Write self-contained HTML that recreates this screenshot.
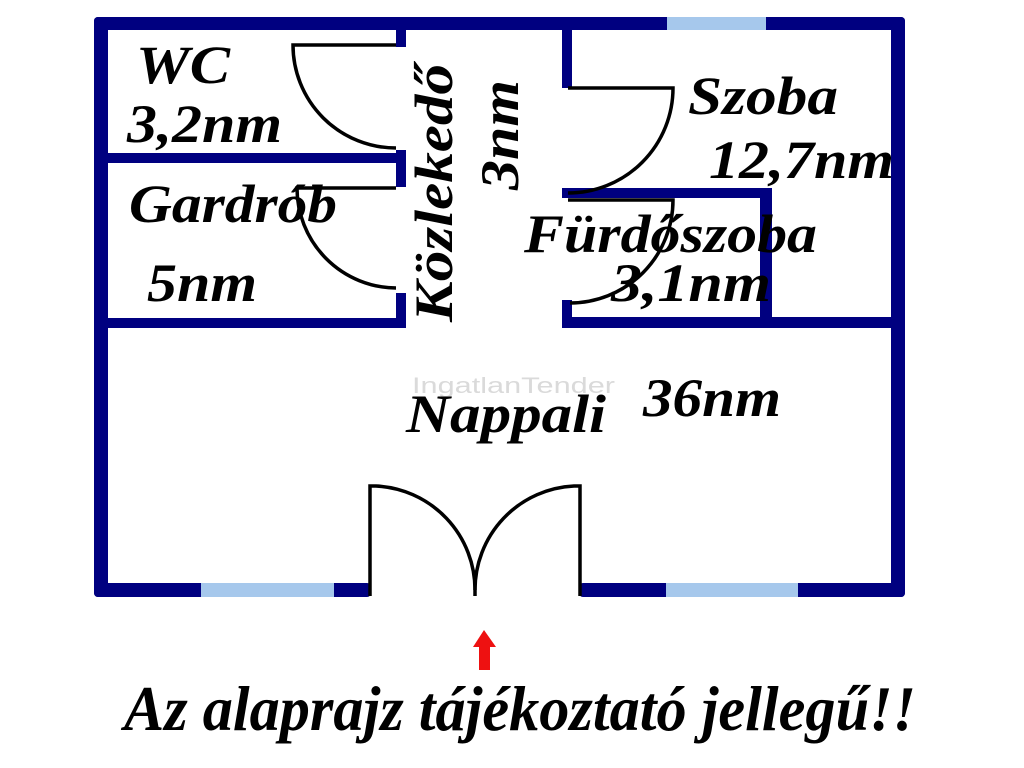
<!DOCTYPE html>
<html><head><meta charset="utf-8"><style>
html,body{margin:0;padding:0;background:#fff;width:1024px;height:768px;overflow:hidden}
svg{display:block}
text{font-family:"Liberation Serif",serif;font-weight:bold;font-style:italic;fill:#000}
text.wm{font-family:"Liberation Sans",sans-serif;font-weight:normal;font-style:normal;fill:#dadada}
</style></head><body>
<svg width="1024" height="768" viewBox="0 0 1024 768" xmlns="http://www.w3.org/2000/svg">
<rect width="1024" height="768" fill="#fff"/>
<g fill="#000080">
<rect x="94" y="17" width="811" height="13" rx="4"/>
<rect x="94" y="17" width="14" height="580" rx="4"/>
<rect x="891" y="17" width="14" height="580" rx="4"/>
<rect x="94" y="583" width="277" height="14" rx="4"/>
<rect x="579" y="583" width="326" height="14" rx="4"/>
<rect x="396" y="28" width="10" height="19"/>
<rect x="396" y="150" width="10" height="37"/>
<rect x="396" y="293" width="10" height="35"/>
<rect x="107" y="153" width="299" height="10"/>
<rect x="107" y="318" width="299" height="10"/>
<rect x="562" y="28" width="10" height="60"/>
<rect x="562" y="188" width="210" height="10"/>
<rect x="562" y="300" width="10" height="28"/>
<rect x="562" y="317" width="330" height="11"/>
<rect x="760" y="188" width="12" height="140"/>
</g>
<g fill="#a6c8ec">
<rect x="667" y="17" width="99" height="13"/>
<rect x="201" y="583" width="133" height="14"/>
<rect x="666" y="583" width="132" height="14"/>
</g>
<g fill="none" stroke="#000" stroke-width="3.5">
<path d="M396 45 H293 A103 103 0 0 0 396 148"/>
<path d="M396 188 H297 A100 100 0 0 0 396 288"/>
<path d="M568 88 H673 A105 105 0 0 1 568 193"/>
<path d="M568 200 H673 A103 103 0 0 1 570 303"/>
<path d="M370 596 V486 H376 A104 104 0 0 1 475 590 V596"/>
<path d="M580 596 V486 H574 A104 104 0 0 0 475 590"/>
</g>
<polygon points="484,630 473,647 479,647 479,670 490,670 490,647 496,647" fill="#ee1111"/>
<text class="wm" x="412" y="393" font-size="22" textLength="203" lengthAdjust="spacingAndGlyphs">IngatlanTender</text>
<text x="136" y="83" font-size="54" textLength="94" lengthAdjust="spacingAndGlyphs">WC</text>
<text x="127" y="142" font-size="54" textLength="155" lengthAdjust="spacingAndGlyphs">3,2nm</text>
<text x="129" y="222" font-size="54" textLength="208" lengthAdjust="spacingAndGlyphs">Gardrób</text>
<text x="147" y="301" font-size="54" textLength="110" lengthAdjust="spacingAndGlyphs">5nm</text>
<text transform="translate(452,322) rotate(-90)" x="0" y="0" font-size="54" textLength="258" lengthAdjust="spacingAndGlyphs">Közlekedő</text>
<text transform="translate(518,190) rotate(-90)" x="0" y="0" font-size="54" textLength="110" lengthAdjust="spacingAndGlyphs">3nm</text>
<text x="688" y="114" font-size="54" textLength="150" lengthAdjust="spacingAndGlyphs">Szoba</text>
<text x="709" y="178" font-size="54" textLength="185" lengthAdjust="spacingAndGlyphs">12,7nm</text>
<text x="524" y="252" font-size="54" textLength="293" lengthAdjust="spacingAndGlyphs">Fürdőszoba</text>
<text x="611" y="301" font-size="54" textLength="160" lengthAdjust="spacingAndGlyphs">3,1nm</text>
<text x="406" y="432" font-size="54" textLength="200" lengthAdjust="spacingAndGlyphs">Nappali</text>
<text x="643" y="416" font-size="54" textLength="138" lengthAdjust="spacingAndGlyphs">36nm</text>
<text x="124" y="730" font-size="64" textLength="792" lengthAdjust="spacingAndGlyphs">Az alaprajz tájékoztató jellegű!!</text>
</svg>
</body></html>
